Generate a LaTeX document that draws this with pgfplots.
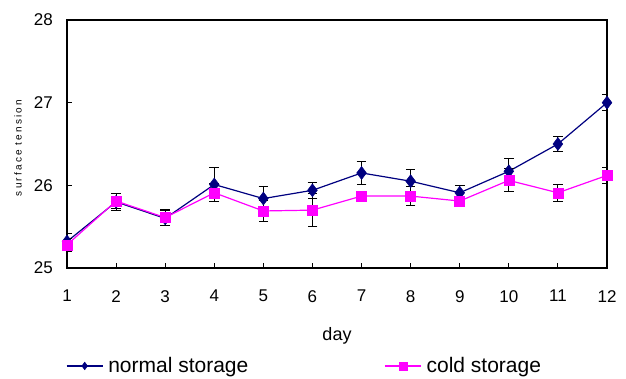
\documentclass[border=0pt]{standalone}
\usepackage{fontspec}
\setmainfont{Liberation Sans}
\usepackage{pgfplots}
\pgfplotsset{compat=1.18}
\definecolor{navyc}{RGB}{0,0,128}
\definecolor{magc}{RGB}{255,0,255}
\begin{document}
\begin{tikzpicture}
\path[use as bounding box] (-67pt,-110pt) rectangle (559pt,268pt);
\begin{axis}[
  at={(0pt,0pt)}, anchor=south west,
  width=540pt, height=248pt, scale only axis,
  xmin=1, xmax=12, ymin=25, ymax=28,
  xtick={1,...,12}, ytick={25,26,27,28},
  tick align=inside, xtick pos=left, ytick pos=left,
  major tick length=5pt,
  axis line style={line width=1.1pt},
  every tick/.style={black, line width=0.9pt},
  /pgf/number format/assume math mode=true,
  ticklabel style={font=\fontsize{17}{17}\selectfont},
  xticklabel style={inner sep=0pt, anchor=north, yshift=-22pt},
  yticklabel style={inner sep=0pt, anchor=east, xshift=-14pt},
  xlabel={day},
  xlabel style={at={(axis description cs:0.5,-0.238)}, anchor=north, inner sep=0pt, font=\fontsize{18}{18}\selectfont},
  ylabel={\addfontfeature{LetterSpace=22}surface tension},
  ylabel style={at={(axis description cs:-0.0907,0.484)}, anchor=center, rotate=0, inner sep=0pt, font=\fontsize{10}{10}\selectfont},
  legend columns=2,
  legend style={at={(axis description cs:-0.002,-0.395)}, anchor=west, draw=none, fill=none, inner sep=0pt,
    nodes={inner sep=0pt}, font=\fontsize{21}{21}\selectfont,
    /tikz/every odd column/.style={column sep=5pt},
    /tikz/every even column/.style={column sep=136pt}},
  legend image code/.code={\draw[mark repeat=2,mark phase=2,#1,mark size=3.8pt] plot coordinates {(0pt,0pt) (18pt,0pt) (36pt,0pt)};},
  error bars/error bar style={black, line width=1pt},
  error bars/error mark options={rotate=90, mark size=4.8pt, black, line width=1pt},
]
\addplot[navyc, line width=1.2pt, mark=diamond*, mark size=6.5pt, mark options={fill=navyc, draw=navyc, line width=0.5pt},
  error bars/.cd, y dir=both, y explicit]
  coordinates {
  (1,25.32) +- (0,0.10)
  (2,25.80) +- (0,0.10)
  (3,25.60) +- (0,0.09)
  (4,26.01) +- (0,0.20)
  (5,25.84) +- (0,0.14)
  (6,25.94) +- (0,0.10)
  (7,26.15) +- (0,0.14)
  (8,26.05) +- (0,0.14)
  (9,25.91) +- (0,0.09)
  (10,26.17) +- (0,0.16)
  (11,26.50) +- (0,0.09)
  (12,27.00) +- (0,0.10)
  };
\addlegendentry{normal storage}
\addplot[magc, line width=1.2pt, mark=square*, mark size=5pt, mark options={fill=magc, draw=magc, line width=0.5pt},
  error bars/.cd, y dir=both, y explicit]
  coordinates {
  (1,25.28) +- (0,0.08)
  (2,25.81) +- (0,0.09)
  (3,25.61) +- (0,0.10)
  (4,25.91) +- (0,0.11)
  (5,25.69) +- (0,0.13)
  (6,25.70) +- (0,0.20)
  (7,25.87) +- (0,0.05)
  (8,25.87) +- (0,0.11)
  (9,25.81) +- (0,0.03)
  (10,26.06) +- (0,0.14)
  (11,25.91) +- (0,0.10)
  (12,26.12) +- (0,0.10)
  };
\addlegendentry{cold storage}
\end{axis}
\end{tikzpicture}
\end{document}
